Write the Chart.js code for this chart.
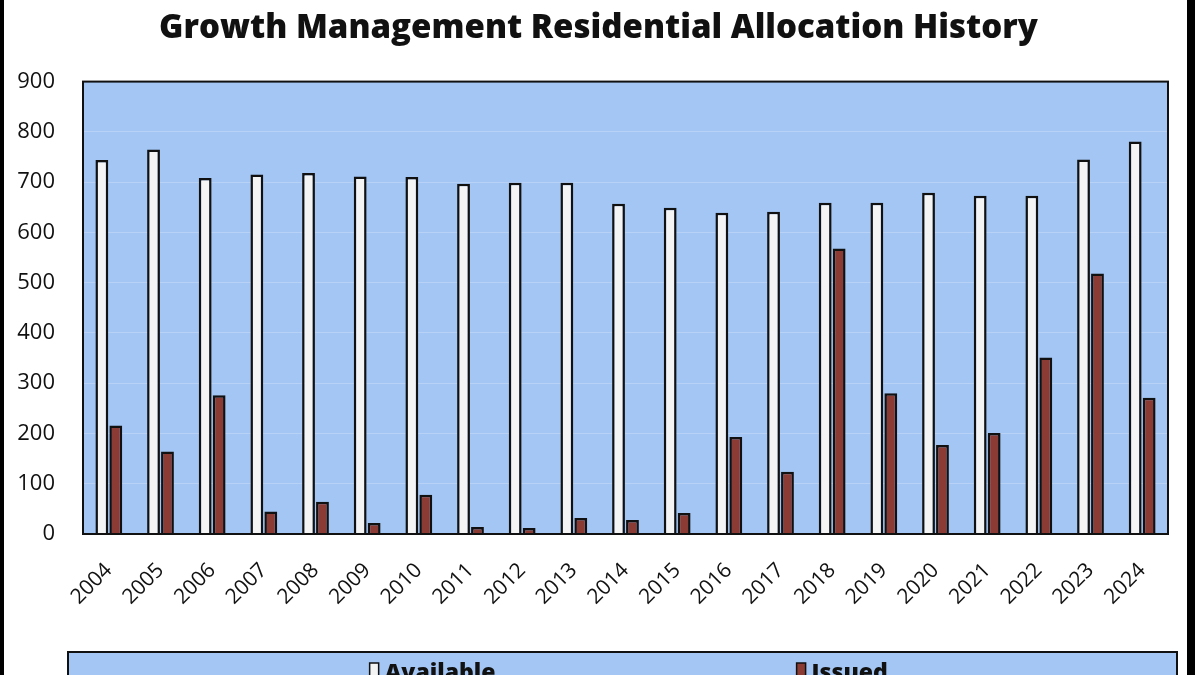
<!DOCTYPE html>
<html>
<head>
<meta charset="utf-8">
<script src="https://cdn.jsdelivr.net/npm/chart.js@4.4.1/dist/chart.umd.min.js"></script>
<style>
  html, body { margin: 0; padding: 0; background: #fff; overflow: hidden; }
  #wrap { width: 1200px; height: 700px; }
</style>
</head>
<body>
<div id="wrap"><canvas id="allocChart" width="1200" height="700"></canvas></div>
<script>
// values
const years = ['2004', '2005', '2006', '2007', '2008', '2009', '2010', '2011', '2012', '2013', '2014',
               '2015', '2016', '2017', '2018', '2019', '2020', '2021', '2022', '2023', '2024'];
const available = [744, 765, 708, 715, 718, 711, 710, 697, 699, 699, 657,
                   649, 639, 641, 659, 659, 679, 673, 673, 745, 781];
const issued = [216, 164, 276, 45, 64, 22, 78, 14, 12, 32, 28,
                42, 193, 124, 568, 280, 177, 201, 351, 518, 271];
const yMin = 0;
const yMax = 900;
const yStep = 100;

const plotBg = '#a3c6f4';
const availColor = '#f4f4f4';
const issuedColor = '#8c3a34';

// background, plot border, outer frame and the boxed legend
const decor = {
  id: 'decor',
  beforeDraw(chart) {
    const { ctx, chartArea: a } = chart;
    ctx.save();
    ctx.fillStyle = '#fff';
    ctx.fillRect(0, 0, chart.width, chart.height);
    ctx.fillStyle = plotBg;
    ctx.fillRect(a.left, a.top, a.right - a.left, a.bottom - a.top);
    ctx.restore();
  },
  afterDraw(chart) {
    const { ctx, chartArea: a } = chart;
    ctx.save();
    ctx.strokeStyle = '#111';
    ctx.lineWidth = 2;
    ctx.strokeRect(a.left, a.top, a.right - a.left, a.bottom - a.top);

    // outer frame (left and right edges)
    ctx.fillStyle = '#000';
    ctx.fillRect(0, 0, 4, chart.height);
    ctx.fillRect(1187, 0, 8, chart.height);

    // legend box
    const lx = 68, lr = 1177;
    const ly = chart.scales.x.bottom;
    ctx.fillStyle = plotBg;
    ctx.fillRect(lx, ly, lr - lx, chart.height - ly + 5);
    ctx.strokeStyle = '#111';
    ctx.lineWidth = 2;
    ctx.strokeRect(lx, ly, lr - lx, chart.height - ly + 5);

    const spots = [0.272, 0.657];
    const cy = ly + 19;
    ctx.font = '800 23px "Open Sans"';
    ctx.textBaseline = 'middle';
    ctx.textAlign = 'left';
    chart.data.datasets.forEach((ds, i) => {
      const mx = lx + (lr - lx) * spots[i];
      ctx.fillStyle = ds.backgroundColor;
      ctx.fillRect(mx, cy - 8, 9, 18);
      ctx.strokeStyle = '#111';
      ctx.lineWidth = 1.5;
      ctx.strokeRect(mx, cy - 8, 9, 18);
      ctx.fillStyle = '#111';
      ctx.fillText(ds.label, mx + 15, cy + 2);
    });
    ctx.restore();
  }
};

new Chart(document.getElementById('allocChart'), {
  type: 'bar',
  data: {
    labels: years,
    datasets: [
      {
        label: 'Available',
        data: available,
        backgroundColor: availColor,
        borderColor: '#111',
        borderWidth: 2.5,
        borderSkipped: 'bottom',
        categoryPercentage: 0.54,
        barPercentage: 0.92
      },
      {
        label: 'Issued',
        data: issued,
        backgroundColor: issuedColor,
        borderColor: '#111',
        borderWidth: 2.5,
        borderSkipped: 'bottom',
        categoryPercentage: 0.54,
        barPercentage: 0.92
      }
    ]
  },
  options: {
    responsive: false,
    animation: false,
    devicePixelRatio: 1,
    layout: { padding: { left: 14, right: 17, top: 0, bottom: 48 } },
    plugins: {
      legend: { display: false },
      tooltip: { enabled: false },
      title: {
        display: true,
        text: 'Growth Management Residential Allocation History',
        color: '#111',
        font: { family: 'Open Sans', size: 33, weight: 800 },
        padding: { top: 9, bottom: 33 }
      }
    },
    scales: {
      x: {
        grid: { display: false },
        border: { display: false },
        ticks: {
          color: '#111',
          font: { family: 'Open Sans', size: 21 },
          maxRotation: 45,
          minRotation: 45,
          padding: 16
        },
        afterFit(scale) { scale.height = 118; }
      },
      y: {
        min: yMin,
        max: yMax,
        grid: { color: 'rgba(255,255,255,0.22)', drawTicks: false, lineWidth: 1 },
        border: { display: false },
        ticks: {
          stepSize: yStep,
          color: '#111',
          font: { family: 'Open Sans', size: 22 },
          padding: 28
        },
        afterFit(scale) { scale.width = 69; }
      },
      // empty right-hand spacer so the title stays centred on the page
      yRight: {
        position: 'right',
        min: yMin,
        max: yMax,
        grid: { display: false },
        border: { display: false },
        ticks: { display: false },
        afterFit(scale) { scale.width = 15; }
      }
    }
  },
  plugins: [decor]
});
</script>
</body>
</html>
